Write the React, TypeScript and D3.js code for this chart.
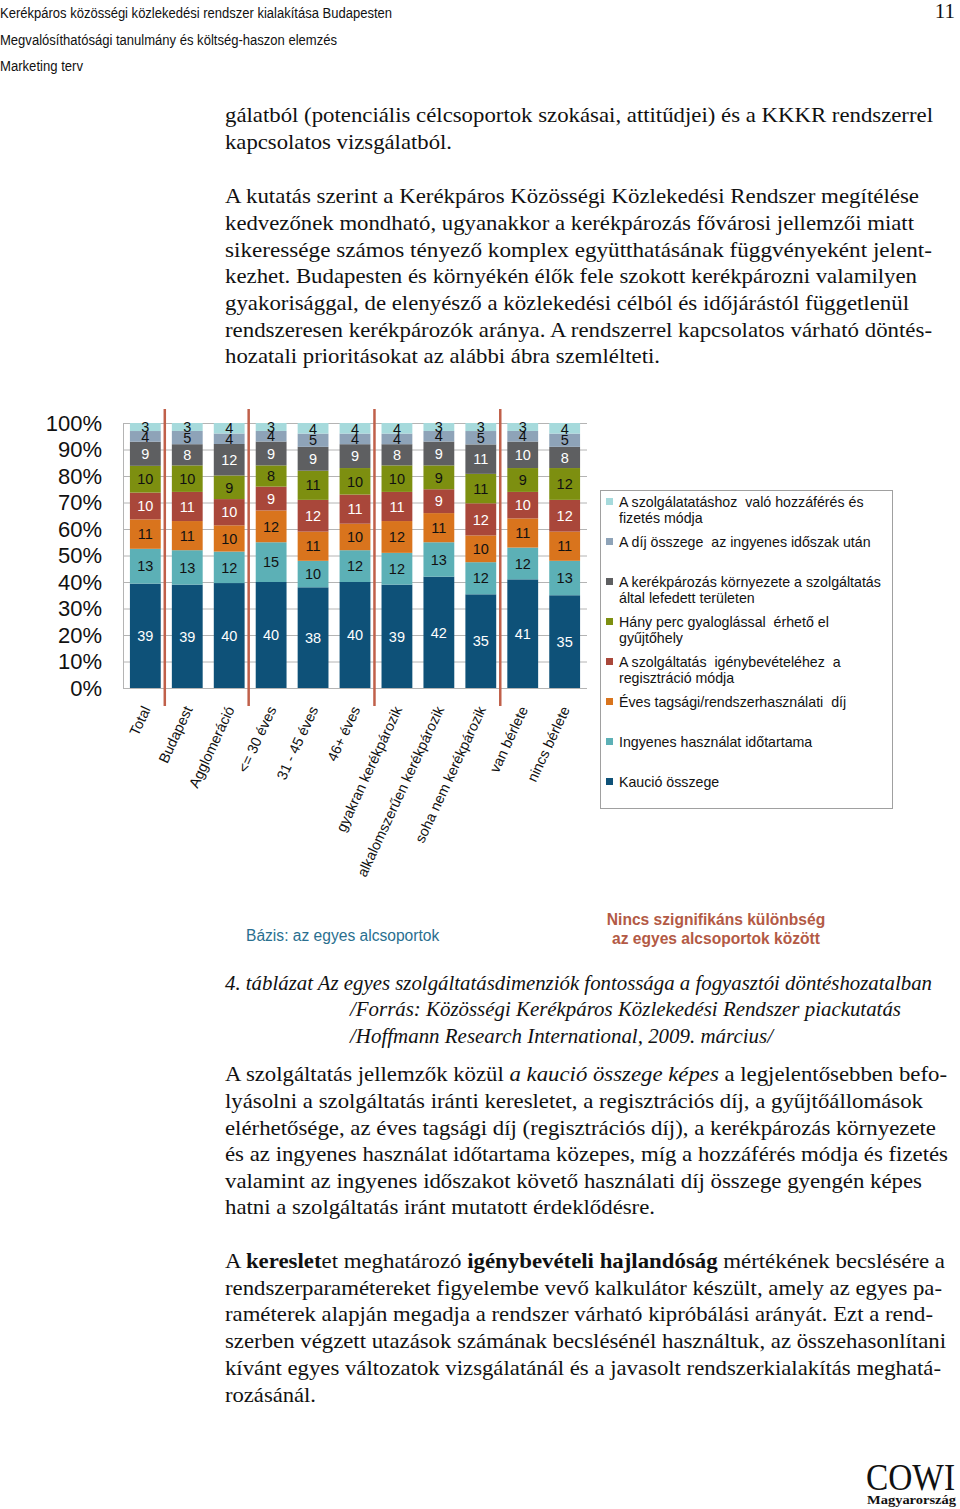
import React from "react";
import * as d3 from "d3";

// ---------- chart data ----------
const categories = [
  "Total",
  "Budapest",
  "Agglomeráció",
  "<= 30 éves",
  "31 - 45 éves",
  "46+ éves",
  "gyakran kerékpározik",
  "alkalomszerűen kerékpározik",
  "soha nem kerékpározik",
  "van bérlete",
  "nincs bérlete",
];

// series, bottom to top
const kaucio = [39, 39, 40, 40, 38, 40, 39, 42, 35, 41, 35];
const ingyenesIdo = [13, 13, 12, 15, 10, 12, 12, 13, 12, 12, 13];
const evesDij = [11, 11, 10, 12, 11, 10, 12, 11, 10, 11, 11];
const regisztracio = [10, 11, 10, 9, 12, 11, 11, 9, 12, 10, 12];
const hanyPerc = [10, 10, 9, 8, 11, 10, 10, 9, 11, 9, 12];
const kornyezet = [9, 8, 12, 9, 9, 9, 8, 9, 11, 10, 8];
const dijOsszeg = [4, 5, 4, 4, 5, 4, 4, 4, 5, 4, 5];
const hozzaferes = [3, 3, 4, 3, 4, 4, 4, 3, 3, 3, 4];

const seriesKeys = ["kaucio", "ingyenesIdo", "evesDij", "regisztracio", "hanyPerc", "kornyezet", "dijOsszeg", "hozzaferes"];
const seriesValues = [kaucio, ingyenesIdo, evesDij, regisztracio, hanyPerc, kornyezet, dijOsszeg, hozzaferes];
const seriesColors = ["#0e5178", "#5cb0b6", "#d9741d", "#a9473a", "#7d8f10", "#5e5f61", "#8ea3b8", "#a6dadc"];
const labelColors = ["#ffffff", "#111111", "#111111", "#ffffff", "#111111", "#ffffff", "#111111", "#111111"];
const seriesLegend = [
  ["Kaució összege"],
  ["Ingyenes használat időtartama"],
  ["Éves tagsági/rendszerhasználati  díj"],
  ["A szolgáltatás  igénybevételéhez  a", "regisztráció módja"],
  ["Hány perc gyaloglással  érhető el", "gyűjtőhely"],
  ["A kerékpározás környezete a szolgáltatás", "által lefedett területen"],
  ["A díj összege  az ingyenes időszak után"],
  ["A szolgálatatáshoz  való hozzáférés és", "fizetés módja"],
];
const yTicks = [0, 10, 20, 30, 40, 50, 60, 70, 80, 90, 100];
const separatorsBefore = ["Budapest", "<= 30 éves", "gyakran kerékpározik", "van bérlete"];

// ---------- page text ----------
type Seg = { t: string; s?: "i" | "b" };
type Line = { x: number; y: number; end: number; segs: Seg[]; italic?: boolean };

const bodyLines: Line[] = [
  { x: 225, y: 122, end: 933, segs: [{ t: "gálatból (potenciális célcsoportok szokásai, attitűdjei) és a KKKR rendszerrel" }] },
  { x: 225, y: 149, end: 452, segs: [{ t: "kapcsolatos vizsgálatból." }] },
  { x: 225, y: 203, end: 919, segs: [{ t: "A kutatás szerint a Kerékpáros Közösségi Közlekedési Rendszer megítélése" }] },
  { x: 225, y: 230, end: 914, segs: [{ t: "kedvezőnek mondható, ugyanakkor a kerékpározás fővárosi jellemzői miatt" }] },
  { x: 225, y: 257, end: 932, segs: [{ t: "sikeressége számos tényező komplex együtthatásának függvényeként jelent-" }] },
  { x: 225, y: 283, end: 917, segs: [{ t: "kezhet. Budapesten és környékén élők fele szokott kerékpározni valamilyen" }] },
  { x: 225, y: 310, end: 909, segs: [{ t: "gyakorisággal, de elenyésző a közlekedési célból és időjárástól függetlenül" }] },
  { x: 225, y: 337, end: 932, segs: [{ t: "rendszeresen kerékpározók aránya. A rendszerrel kapcsolatos várható döntés-" }] },
  { x: 225, y: 363, end: 660, segs: [{ t: "hozatali prioritásokat az alábbi ábra szemlélteti." }] },

  { x: 225, y: 990, end: 932, italic: true, segs: [{ t: "4. táblázat Az egyes szolgáltatásdimenziók fontossága a fogyasztói döntéshozatalban" }] },
  { x: 350, y: 1016, end: 901, italic: true, segs: [{ t: "/Forrás: Közösségi Kerékpáros Közlekedési Rendszer piackutatás" }] },
  { x: 350, y: 1043, end: 773, italic: true, segs: [{ t: "/Hoffmann Research International, 2009. március/" }] },

  { x: 225, y: 1081, end: 947, segs: [{ t: "A szolgáltatás jellemzők közül " }, { t: "a kaució összege képes", s: "i" }, { t: " a legjelentősebben befo-" }] },
  { x: 225, y: 1108, end: 923, segs: [{ t: "lyásolni a szolgáltatás iránti keresletet, a regisztrációs díj, a gyűjtőállomások" }] },
  { x: 225, y: 1135, end: 936, segs: [{ t: "elérhetősége, az éves tagsági díj (regisztrációs díj), a kerékpározás környezete" }] },
  { x: 225, y: 1161, end: 948, segs: [{ t: "és az ingyenes használat időtartama közepes, míg a hozzáférés módja és fizetés" }] },
  { x: 225, y: 1188, end: 922, segs: [{ t: "valamint az ingyenes időszakot követő használati díj összege gyengén képes" }] },
  { x: 225, y: 1214, end: 655, segs: [{ t: "hatni a szolgáltatás iránt mutatott érdeklődésre." }] },

  { x: 225, y: 1268, end: 945, segs: [{ t: "A " }, { t: "kereslet", s: "b" }, { t: "et meghatározó " }, { t: "igénybevételi hajlandóság", s: "b" }, { t: " mértékének becslésére a" }] },
  { x: 225, y: 1295, end: 942, segs: [{ t: "rendszerparamétereket figyelembe vevő kalkulátor készült, amely az egyes pa-" }] },
  { x: 225, y: 1321, end: 933, segs: [{ t: "raméterek alapján megadja a rendszer várható kipróbálási arányát. Ezt a rend-" }] },
  { x: 225, y: 1348, end: 946, segs: [{ t: "szerben végzett utazások számának becslésénél használtuk, az összehasonlítani" }] },
  { x: 225, y: 1375, end: 941, segs: [{ t: "kívánt egyes változatok vizsgálatánál és a javasolt rendszerkialakítás meghatá-" }] },
  { x: 225, y: 1402, end: 316, segs: [{ t: "rozásánál." }] },
];

const headerLines = [
  { t: "Kerékpáros közösségi közlekedési rendszer kialakítása Budapesten", y: 18, end: 392 },
  { t: "Megvalósíthatósági tanulmány és költség-haszon elemzés", y: 45, end: 337 },
  { t: "Marketing terv", y: 71, end: 83 },
];

const SANS = "'Liberation Sans', Arial, sans-serif";
const SERIF = "'Liberation Serif', 'Times New Roman', serif";

export default function App() {
  const x = d3
    .scaleBand<string>()
    .domain(categories)
    .range([123, 587])
    .paddingInner(0.265)
    .paddingOuter(0.165);
  const y = d3.scaleLinear().domain([0, 1]).range([688, 423]);
  const yPct = d3.scaleLinear().domain([0, 100]).range([688, 423]);

  const rows = categories.map((c, i) => {
    const o: any = { cat: c };
    seriesKeys.forEach((k, j) => (o[k] = seriesValues[j][i]));
    return o;
  });
  const layers = d3.stack<any>().keys(seriesKeys).offset(d3.stackOffsetExpand)(rows);
  const bw = x.bandwidth();
  const gap = x.step() - bw;

  return (
    <div style={{ position: "absolute", left: 0, top: 0 }}>
      <svg width={960} height={1509} style={{ display: "block", background: "#fff" }}>
        <rect x={0} y={0} width={960} height={1509} fill="#fff" />
        {/* header */}
        {headerLines.map((h, i) => (
          <text key={i} x={0} y={h.y} fontFamily={SANS} fontSize={14} fill="#111" textLength={h.end} lengthAdjust="spacingAndGlyphs">
            {h.t}
          </text>
        ))}
        <text x={955} y={18} textAnchor="end" fontFamily={SERIF} fontSize={21} fill="#111">
          11
        </text>

        {/* body text */}
        {bodyLines.map((l, i) => (
          <text
            key={i}
            x={l.x}
            y={l.y}
            fontFamily={SERIF}
            fontSize={21.5}
            fontStyle={l.italic ? "italic" : "normal"}
            fill="#111"
            textLength={l.end - l.x}
            lengthAdjust="spacingAndGlyphs"
            style={{ whiteSpace: "pre" }}
          >
            {l.segs.map((s, j) => (
              <tspan key={j} fontStyle={s.s === "i" ? "italic" : undefined} fontWeight={s.s === "b" ? "bold" : undefined}>
                {s.t}
              </tspan>
            ))}
          </text>
        ))}

        {/* chart gridlines */}
        {yTicks.map((t) => (
          <line key={t} x1={123} x2={587} y1={yPct(t) + 0.5} y2={yPct(t) + 0.5} stroke="#b4b4b4" strokeWidth={1} />
        ))}
        <line x1={123.5} x2={123.5} y1={423} y2={688} stroke="#b4b4b4" />
        {yTicks.map((t) => (
          <text key={t} x={102} y={yPct(t)} dy="0.36em" textAnchor="end" fontFamily={SANS} fontSize={22} fill="#111">
            {t}%
          </text>
        ))}

        {/* bars */}
        {layers.map((layer, li) => (
          <g key={layer.key}>
            {layer.map((d, ci) => (
              <rect
                key={ci}
                x={x(categories[ci])}
                y={y(d[1])}
                width={bw}
                height={y(d[0]) - y(d[1])}
                fill={seriesColors[li]}
              />
            ))}
          </g>
        ))}
        {layers.map((layer, li) => (
          <g key={"l" + layer.key}>
            {layer.map((d, ci) => (
              <text
                key={ci}
                x={(x(categories[ci]) as number) + bw / 2}
                y={(y(d[0]) + y(d[1])) / 2}
                dy="0.36em"
                textAnchor="middle"
                fontFamily={SANS}
                fontSize={14.5}
                fill={labelColors[li]}
              >
                {seriesValues[li][ci]}
              </text>
            ))}
          </g>
        ))}

        {/* separators */}
        {separatorsBefore.map((c) => {
          const sx = (x(c) as number) - gap / 2 - 1.5;
          return <line key={c} x1={sx} x2={sx} y1={409} y2={706} stroke="#c0604a" strokeWidth={2.5} />;
        })}

        {/* x labels */}
        {categories.map((c) => {
          const cx = (x(c) as number) + bw / 2;
          return (
            <text
              key={c}
              transform={`translate(${cx + 1},${707}) rotate(-65)`}
              dy="0.35em"
              textAnchor="end"
              fontFamily={SANS}
              fontSize={14.4}
              fill="#111"
            >
              {c}
            </text>
          );
        })}

        {/* legend */}
        <rect x={600.5} y={490.5} width={292} height={318} fill="#fff" stroke="#a0a0a0" />
        {seriesLegend
          .map((lines, i) => ({ lines, i }))
          .reverse()
          .map(({ lines, i }, k) => {
            const ly = 502 + k * 40;
            return (
              <g key={i}>
                <rect x={606} y={ly - 4} width={7} height={7} fill={seriesColors[i]} />
                {lines.map((t, j) => (
                  <text
                    key={j}
                    x={619}
                    y={ly + j * 16}
                    dy="0.36em"
                    fontFamily={SANS}
                    fontSize={14.2}
                    fill="#111"
                    style={{ whiteSpace: "pre" }}
                  >
                    {t}
                  </text>
                ))}
              </g>
            );
          })}

        {/* notes */}
        <text x={246} y={941} fontFamily={SANS} fontSize={15.6} fill="#2a6f8f">
          Bázis: az egyes alcsoportok
        </text>
        <text x={716} y={925} textAnchor="middle" fontFamily={SANS} fontSize={15.6} fontWeight="bold" fill="#b35a45">
          Nincs szignifikáns különbség
        </text>
        <text x={716} y={944} textAnchor="middle" fontFamily={SANS} fontSize={15.6} fontWeight="bold" fill="#b35a45">
          az egyes alcsoportok között
        </text>

        {/* logo */}
        <text x={866} y={1490} fontFamily={SERIF} fontSize={38} fill="#111" textLength={89} lengthAdjust="spacingAndGlyphs">
          COWI
        </text>
        <text x={867} y={1504} fontFamily={SERIF} fontSize={12.5} fontWeight="bold" fill="#111" textLength={89} lengthAdjust="spacingAndGlyphs">
          Magyarország
        </text>
      </svg>
    </div>
  );
}
